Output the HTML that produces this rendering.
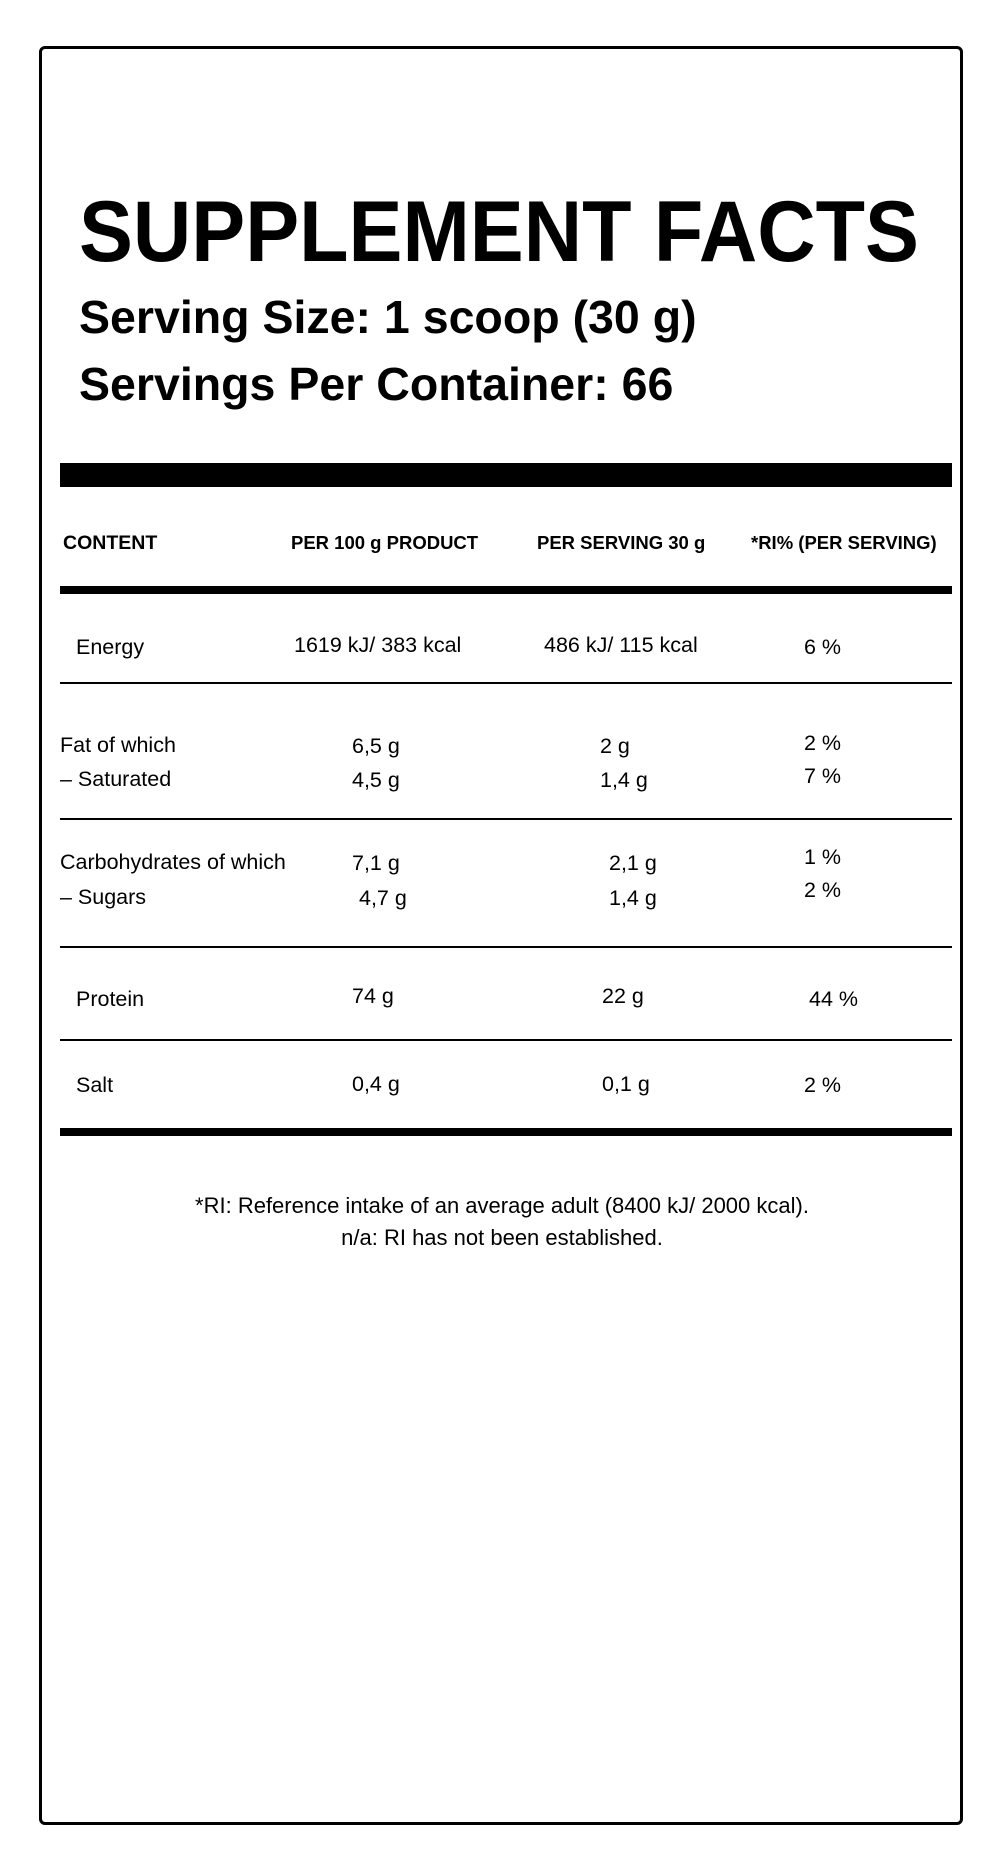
<!DOCTYPE html>
<html><head><meta charset="utf-8"><style>
html,body{margin:0;padding:0;background:#fff;}
body{width:1000px;height:1871px;position:relative;overflow:hidden;font-family:"Liberation Sans",Arial,sans-serif;color:#000;}
.box{position:absolute;left:39px;top:46px;width:918px;height:1773px;border:3.5px solid #000;border-radius:6px;}
.t{position:absolute;white-space:nowrap;font-size:21.5px;line-height:20px;}
.b{font-weight:bold;}
.bar{position:absolute;left:60px;width:892px;background:#000;}
</style></head><body>
<div class="box"></div>
<div class="t b" style="left:79px;top:189px;font-size:86px;line-height:86px;transform:scaleX(0.94);transform-origin:left;">SUPPLEMENT FACTS</div>
<div class="t b" style="left:79px;top:296px;font-size:46.5px;line-height:43px;">Serving Size: 1 scoop (30 g)</div>
<div class="t b" style="left:79px;top:363px;font-size:46.5px;line-height:43px;">Servings Per Container: 66</div>
<div class="bar" style="top:463px;height:24px;"></div>
<div class="t" style="left:63px;top:533px;font-weight:600;font-size:19.5px;">CONTENT</div>
<div class="t" style="left:291px;top:533px;font-weight:600;font-size:18.5px;">PER 100 g PRODUCT</div>
<div class="t" style="left:537px;top:533px;font-weight:600;font-size:18.5px;">PER SERVING 30 g</div>
<div class="t" style="left:751px;top:533px;font-weight:600;font-size:18.5px;">*RI% (PER SERVING)</div>
<div class="bar" style="top:586px;height:8px;"></div>

<div class="t" style="left:76px;top:637px;">Energy</div>
<div class="t" style="left:294px;top:635px;">1619 kJ/ 383 kcal</div>
<div class="t" style="left:544px;top:635px;">486 kJ/ 115 kcal</div>
<div class="t" style="left:804px;top:637px;">6 %</div>
<div class="bar" style="top:682px;height:1.5px;"></div>

<div class="t" style="left:60px;top:735px;">Fat of which</div>
<div class="t" style="left:60px;top:769px;">– Saturated</div>
<div class="t" style="left:352px;top:736px;">6,5 g</div>
<div class="t" style="left:352px;top:770px;">4,5 g</div>
<div class="t" style="left:600px;top:736px;">2 g</div>
<div class="t" style="left:600px;top:770px;">1,4 g</div>
<div class="t" style="left:804px;top:733px;">2 %</div>
<div class="t" style="left:804px;top:766px;">7 %</div>
<div class="bar" style="top:818px;height:1.5px;"></div>

<div class="t" style="left:60px;top:852px;">Carbohydrates of which</div>
<div class="t" style="left:60px;top:887px;">– Sugars</div>
<div class="t" style="left:352px;top:853px;">7,1 g</div>
<div class="t" style="left:359px;top:888px;">4,7 g</div>
<div class="t" style="left:609px;top:853px;">2,1 g</div>
<div class="t" style="left:609px;top:888px;">1,4 g</div>
<div class="t" style="left:804px;top:847px;">1 %</div>
<div class="t" style="left:804px;top:880px;">2 %</div>
<div class="bar" style="top:946px;height:1.5px;"></div>

<div class="t" style="left:76px;top:989px;">Protein</div>
<div class="t" style="left:352px;top:986px;">74 g</div>
<div class="t" style="left:602px;top:986px;">22 g</div>
<div class="t" style="left:809px;top:989px;">44 %</div>
<div class="bar" style="top:1039px;height:1.5px;"></div>

<div class="t" style="left:76px;top:1075px;">Salt</div>
<div class="t" style="left:352px;top:1074px;">0,4 g</div>
<div class="t" style="left:602px;top:1074px;">0,1 g</div>
<div class="t" style="left:804px;top:1075px;">2 %</div>
<div class="bar" style="top:1128px;height:8px;"></div>

<div class="t" style="left:0;width:1000px;text-align:center;top:1196px;padding-left:4px;box-sizing:border-box;font-size:22px;">*RI: Reference intake of an average adult (8400 kJ/ 2000 kcal).</div>
<div class="t" style="left:0;width:1000px;text-align:center;top:1228px;padding-left:4px;box-sizing:border-box;font-size:22px;">n/a: RI has not been established.</div>
</body></html>
